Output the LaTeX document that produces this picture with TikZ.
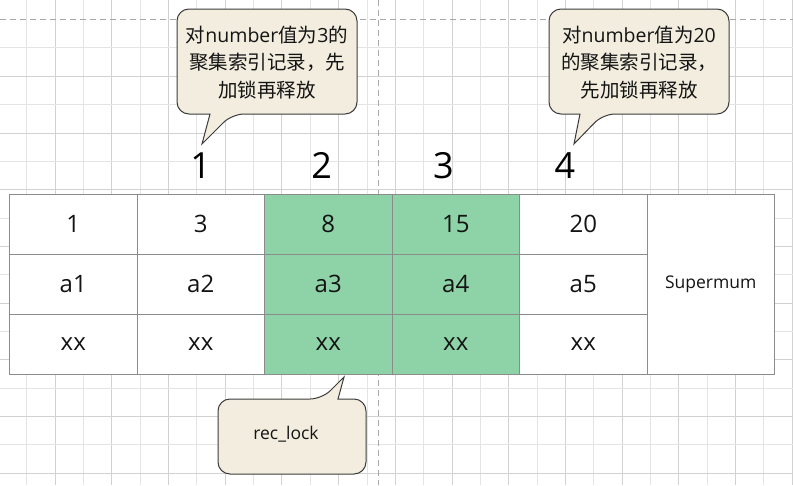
\documentclass[tikz,border=0pt]{standalone}
\usepackage{fontspec}
\setmainfont{Open Sans}
\newfontfamily\cjk{Noto Sans CJK SC}
\newcommand\zh[1]{{\cjk #1}}
\definecolor{gridminor}{HTML}{E4E4E4}
\definecolor{gridmajor}{HTML}{D2D2D2}
\definecolor{dashgray}{HTML}{A8A8A8}
\definecolor{tblgray}{HTML}{8C8C8C}
\definecolor{lockgreen}{HTML}{8ED3A7}
\definecolor{notefill}{HTML}{F2EDDE}
\definecolor{noteline}{HTML}{3C3C3C}
\definecolor{ink}{HTML}{141414}
\begin{document}
\begin{tikzpicture}[x=1pt,y=-1pt,
  cell/.style={draw=tblgray, line width=1pt, fill=white, minimum width=127.5pt,
    minimum height=59.9pt, inner sep=0pt, text=ink, font=\fontsize{24}{28}\selectfont},
  lockcell/.style={cell, fill=lockgreen},
  idx/.style={inner sep=0pt, text=black, font=\fontsize{36}{40}\selectfont},
  notebox/.style={draw=noteline, line width=1pt, fill=notefill},
  notetext/.style={inner sep=0pt, align=center, text=ink, font=\fontsize{19.5}{27.5}\selectfont},
  gminor/.style={draw=gridminor, line width=0.8pt},
  gmajor/.style={draw=gridmajor, line width=0.8pt},
  pageedge/.style={draw=dashgray, line width=0.9pt, dash pattern=on 6pt off 4pt}]
\useasboundingbox (0,0) rectangle (793,485);
\fill[white] (0,0) rectangle (793,485);
% grid
\foreach \k in {0,...,27}{
  \pgfmathsetmacro\xx{26.7+28.35*\k}
  \ifodd\k \draw[gmajor] (\xx,0) -- (\xx,485); \else \draw[gminor] (\xx,0) -- (\xx,485); \fi
}
\foreach \k in {1,...,16}{
  \pgfmathsetmacro\yy{19.5+28.35*\k}
  \ifodd\k \draw[gminor] (0,\yy) -- (793,\yy); \else \draw[gmajor] (0,\yy) -- (793,\yy); \fi
}
\draw[pageedge] (0,19.5) -- (793,19.5);
\draw[pageedge] (378.3,0) -- (378.3,485);
% table
\node[cell] (c11) at (73.25,224.3) {1};
\node[cell] (c12) at (200.75,224.3) {3};
\node[lockcell] (c13) at (328.25,224.3) {8};
\node[lockcell] (c14) at (455.75,224.3) {15};
\node[cell] (c15) at (583.25,224.3) {20};
\node[cell] (c21) at (73.25,284.2) {a1};
\node[cell] (c22) at (200.75,284.2) {a2};
\node[lockcell] (c23) at (328.25,284.2) {a3};
\node[lockcell] (c24) at (455.75,284.2) {a4};
\node[cell] (c25) at (583.25,284.2) {a5};
\node[cell] (c31) at (73.25,344.1) {xx};
\node[cell] (c32) at (200.75,344.1) {xx};
\node[lockcell] (c33) at (328.25,344.1) {xx};
\node[lockcell] (c34) at (455.75,344.1) {xx};
\node[cell] (c35) at (583.25,344.1) {xx};
\node[cell, minimum height=179.7pt, font=\fontsize{17.5}{22}\selectfont] (sup) at (710.75,284.2) {Supermum};
% index numbers
\node[idx] (i1) at (200.7,165.5) {1};
\node[idx] (i2) at (321.7,165.5) {2};
\node[idx] (i3) at (443.3,165.5) {3};
\node[idx] (i4) at (565,165.5) {4};
% callout 1
\draw[notebox] (267,9) [rounded corners=12pt] -- (357,9) -- (357,114) -- (232,114) [sharp corners] -- (202,144) -- (210,114) [rounded corners=12pt] -- (177,114) -- (177,9) -- cycle;
\node[notetext] (n1) at (267,62.5) {\zh{对}number\zh{值为}3\zh{的}\\\zh{聚集索引记录，先}\\\zh{加锁再释放}};
% callout 2
\draw[notebox] (639,9) [rounded corners=12pt] -- (729,9) -- (729,114) -- (603,114) [sharp corners] -- (574,144) -- (580,114) [rounded corners=12pt] -- (549,114) -- (549,9) -- cycle;
\node[notetext] (n2) at (639,62.5) {\zh{对}number\zh{值为}20\\\zh{的聚集索引记录，}\\\zh{先加锁再释放}};
% callout 3
\draw[notebox] (292,474) [rounded corners=12pt] -- (218,474) -- (218,399) -- (322,399) [sharp corners] -- (344,377) -- (338,399) [rounded corners=12pt] -- (366,399) -- (366,474) -- cycle;
\node[notetext, font=\fontsize{17.5}{21}\selectfont] (n3) at (286,434) {rec\_lock};
\end{tikzpicture}
\end{document}
